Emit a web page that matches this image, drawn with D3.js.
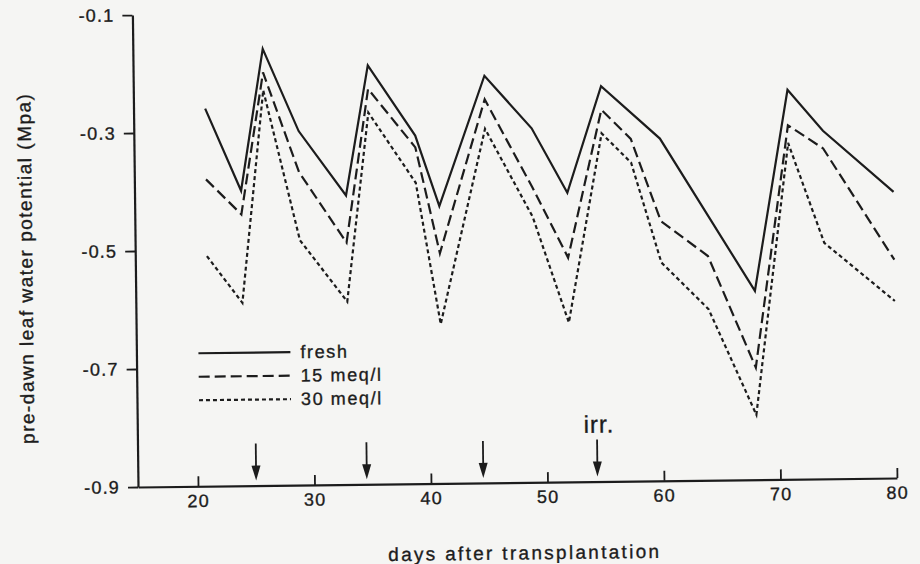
<!DOCTYPE html>
<html>
<head>
<meta charset="utf-8">
<script src="https://cdn.jsdelivr.net/npm/d3@7"></script>
<style>
	body { margin: 0; background: #f5f5f3; }
	text { font-family: "Liberation Sans", Arial, sans-serif; fill: #1c1c1c; stroke: #1c1c1c; stroke-width: 0.35px; }
</style>
</head>
<body>
<div id="chart-area"></div>
<script>
// values
var days = [21, 24, 26, 29, 33, 35, 39, 41, 45, 49, 52, 55, 57.5, 60, 64, 68, 71, 74, 80];
var fresh = [-0.26, -0.40, -0.16, -0.30, -0.41, -0.19, -0.31, -0.43, -0.21, -0.30, -0.41, -0.23, null, -0.32, null, -0.58, -0.24, -0.31, -0.415];
var meq15 = [-0.38, -0.44, -0.20, -0.37, -0.49, -0.23, -0.33, -0.51, -0.25, -0.40, -0.52, -0.27, -0.32, -0.46, -0.52, -0.71, -0.30, -0.34, -0.53];
var meq30 = [-0.51, -0.59, -0.23, -0.485, -0.59, -0.27, -0.39, -0.63, -0.30, -0.45, -0.63, -0.31, -0.36, -0.53, -0.61, -0.79, -0.33, -0.50, -0.60];
var seriesNames = ["fresh", "15 meq/l", "30 meq/l"];
var xTicks = [20, 30, 40, 50, 60, 70, 80];
var yTicks = [-0.9, -0.7, -0.5, -0.3, -0.1];
var irrigationDays = [25, 34.5, 44.5, 54.3];

var width = 920;
var height = 564;
var ink = "#1c1c1c";

var svg = d3.select("#chart-area").append("svg")
	.attr("width", width)
	.attr("height", height);

// the scan is slightly tilted, so the whole plot is too
var g = svg.append("g")
	.attr("transform", "rotate(-0.68, 138, 487)");

var x = d3.scaleLinear().domain([14.85, 80]).range([138, 897]);
var y = d3.scaleLinear().domain([-0.9, -0.1]).range([487, 15]);

// axes
var xAxisCall = d3.axisBottom(x)
	.tickValues(xTicks)
	.tickSizeInner(-10)
	.tickSizeOuter(0)
	.tickPadding(8);

var yAxisCall = d3.axisLeft(y)
	.tickValues(yTicks)
	.tickSizeInner(10)
	.tickSizeOuter(0)
	.tickPadding(8)
	.tickFormat(d => d.toFixed(1));

var xAxisGroup = g.append("g")
	.attr("transform", "translate(0," + y(-0.9) + ")")
	.call(xAxisCall);

var yAxisGroup = g.append("g")
	.attr("transform", "translate(" + x.range()[0] + ",0)")
	.call(yAxisCall);

[xAxisGroup, yAxisGroup].forEach(ax => {
	ax.select(".domain").attr("stroke", ink).attr("stroke-width", 2.2);
	ax.selectAll(".tick line").attr("stroke", ink).attr("stroke-width", 1.8);
	ax.selectAll(".tick text")
		.attr("font-size", "18px")
		.attr("letter-spacing", "1.2px")
		.attr("fill", ink);
});

// lines
var dashes = [null, "11,5", "4,3"];
var series = [fresh, meq15, meq30].map((vals, i) => {
	return {
		name: seriesNames[i],
		points: days.map((d, j) => ({ day: d, value: vals[j] })).filter(p => p.value !== null)
	};
});

var line = d3.line()
	.x(d => x(d.day))
	.y(d => y(d.value));

g.selectAll(".series").data(series).enter().append("path")
	.attr("class", "series")
	.attr("d", d => line(d.points))
	.attr("fill", "none")
	.attr("stroke", ink)
	.attr("stroke-width", 2.2)
	.attr("stroke-linejoin", "miter")
	.attr("stroke-dasharray", (d, i) => dashes[i]);

// legend
var legend = g.selectAll(".legend").data(series).enter().append("g")
	.attr("class", "legend")
	.attr("transform", (d, i) => "translate(200," + (354 + i * 23.5) + ")");

legend.append("line")
	.attr("x1", 0)
	.attr("x2", 92)
	.attr("stroke", ink)
	.attr("stroke-width", 2.2)
	.attr("stroke-dasharray", (d, i) => dashes[i]);

legend.append("text")
	.attr("x", 102)
	.attr("y", 6)
	.attr("font-size", "18px")
	.attr("letter-spacing", "1.6px")
	.text(d => d.name);

// irrigation arrows
var arrows = g.selectAll(".arrow").data(irrigationDays).enter().append("g")
	.attr("class", "arrow")
	.attr("transform", d => "translate(" + x(d) + "," + y(-0.9) + ")");

arrows.append("line")
	.attr("y1", -42)
	.attr("y2", -18)
	.attr("stroke", ink)
	.attr("stroke-width", 1.8);

arrows.append("path")
	.attr("d", "M-4.5,-20L4.5,-20L0,-5Z")
	.attr("fill", ink);

g.append("text")
	.attr("x", x(irrigationDays[3]) + 2)
	.attr("y", 438)
	.attr("text-anchor", "middle")
	.attr("font-size", "24px")
	.attr("letter-spacing", "1px")
	.text("irr.");

// axis titles
g.append("text")
	.attr("x", 524)
	.attr("y", 564)
	.attr("text-anchor", "middle")
	.attr("font-size", "19px")
	.attr("letter-spacing", "2.3px")
	.text("days after transplantation");

g.append("text")
	.attr("transform", "translate(35,267) rotate(-90)")
	.attr("text-anchor", "middle")
	.attr("font-size", "19px")
	.attr("letter-spacing", "1.5px")
	.text("pre-dawn leaf water potential (Mpa)");
</script>
</body>
</html>
